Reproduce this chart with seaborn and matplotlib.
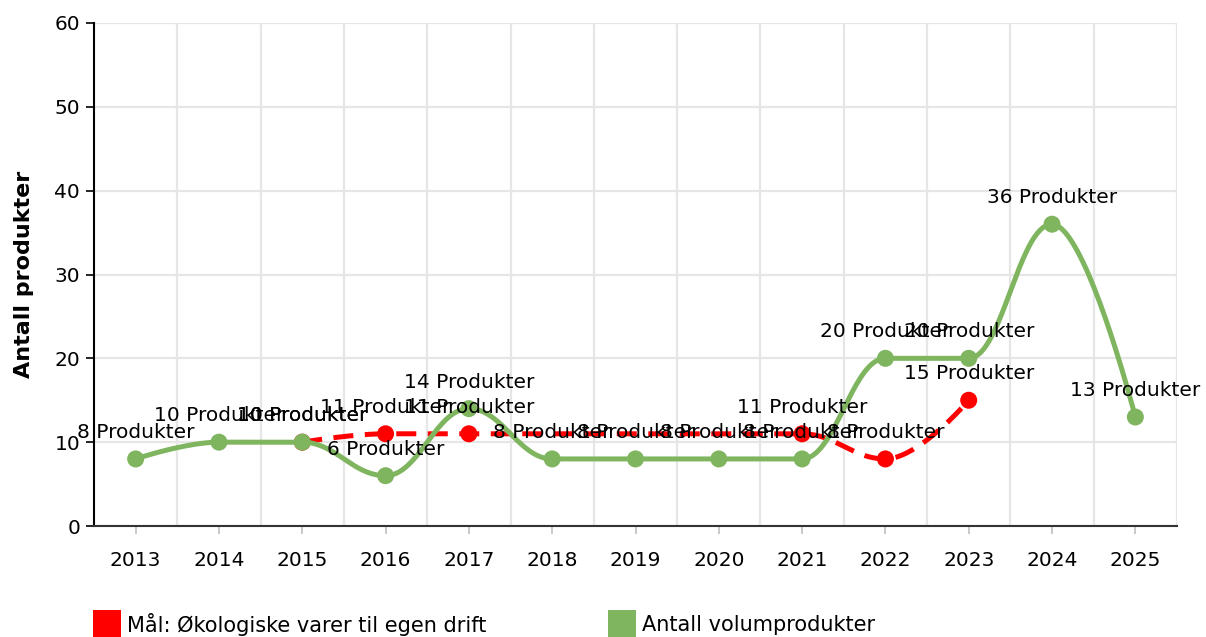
import numpy as np
import pandas as pd
import matplotlib
matplotlib.use("Agg")
import matplotlib.pyplot as plt
from matplotlib.patches import Rectangle
import seaborn as sns

years = [2013, 2014, 2015, 2016, 2017, 2018, 2019, 2020, 2021, 2022, 2023, 2024, 2025]
volum = [8, 10, 10, 6, 14, 8, 8, 8, 8, 20, 20, 36, 13]
maal = [np.nan, np.nan, 10, 11, 11, np.nan, np.nan, np.nan, 11, 8, 15, np.nan, np.nan]

navn_maal = "Mål: Økologiske varer til egen drift"
navn_volum = "Antall volumprodukter"
farge_maal = "#ff0000"
farge_volum = "#7fb55f"


def spline(xs, ys, smoothing=1.5):
    # kubisk bezier-spline, kontrollpunktene klemmes så kurven ikke skyter over naboene
    n = len(xs)
    left = [None] * n
    right = [None] * n
    d = smoothing + 1
    for i in range(1, n - 1):
        px, py = xs[i], ys[i]
        lx, ly = xs[i - 1], ys[i - 1]
        nx, ny = xs[i + 1], ys[i + 1]
        lcx, lcy = (smoothing * px + lx) / d, (smoothing * py + ly) / d
        rcx, rcy = (smoothing * px + nx) / d, (smoothing * py + ny) / d
        if rcx != lcx:
            corr = (rcy - lcy) * (rcx - px) / (rcx - lcx) + py - rcy
            lcy += corr
            rcy += corr
        if lcy > ly and lcy > py:
            lcy = max(ly, py); rcy = 2 * py - lcy
        elif lcy < ly and lcy < py:
            lcy = min(ly, py); rcy = 2 * py - lcy
        if rcy > ny and rcy > py:
            rcy = max(ny, py); lcy = 2 * py - rcy
        elif rcy < ny and rcy < py:
            rcy = min(ny, py); lcy = 2 * py - rcy
        left[i] = (lcx, lcy)
        right[i] = (rcx, rcy)
    t = np.linspace(0, 1, 40)
    cx, cy = [], []
    for i in range(1, n):
        p0 = (xs[i - 1], ys[i - 1])
        p3 = (xs[i], ys[i])
        p1 = right[i - 1] or p0
        p2 = left[i] or p3
        bx = (1 - t) ** 3 * p0[0] + 3 * (1 - t) ** 2 * t * p1[0] + 3 * (1 - t) * t ** 2 * p2[0] + t ** 3 * p3[0]
        by = (1 - t) ** 3 * p0[1] + 3 * (1 - t) ** 2 * t * p1[1] + 3 * (1 - t) * t ** 2 * p2[1] + t ** 3 * p3[1]
        cx.extend(bx)
        cy.extend(by)
    return np.array(cx), np.array(cy)


df = pd.DataFrame({"aar": years, "volum": volum, "maal": maal})

sns.set_theme(style="white")
plt.rcParams["font.family"] = ["DejaVu Sans"]

fig = plt.figure(figsize=(12.06, 6.37), dpi=100)
ax = fig.add_axes([94 / 1206, 111 / 637, 1083 / 1206, 503 / 637])

serier = [("maal", farge_maal, (0, (4, 2.3)), 2), ("volum", farge_volum, "-", 4)]
for kol, farge, stil, z in serier:
    d = df.dropna(subset=[kol])
    cx, cy = spline(list(d["aar"].astype(float)), list(d[kol].astype(float)))
    sns.lineplot(x=cx, y=cy, sort=False, estimator=None, ax=ax, color=farge,
                 linewidth=3.6, linestyle=stil, zorder=z)
    sns.scatterplot(x=d["aar"], y=d[kol], ax=ax, color=farge, s=150,
                    edgecolor="none", zorder=z + 0.5)
    for x, y in zip(d["aar"], d[kol]):
        ax.annotate(f"{int(y)} Produkter", (x, y), xytext=(0, 19), textcoords="offset points",
                    ha="center", va="center", fontsize=14.5, color="black",
                    zorder=10, annotation_clip=False)

ax.set_xlim(2012.5, 2025.5)
ax.set_ylim(0, 60)
ax.set_xticks(years)
ax.set_xticks(np.arange(2013.5, 2025.6, 1), minor=True)
ax.set_yticks(range(0, 61, 10))
ax.grid(which="minor", axis="x", color="#e6e6e6", linewidth=1.6)
ax.grid(which="major", axis="y", color="#e6e6e6", linewidth=1.6)
ax.grid(which="major", axis="x", visible=False)
ax.set_axisbelow(True)

ax.tick_params(axis="y", which="major", left=True, length=6, width=1.2, color="black",
               labelsize=14.5, pad=4, labelcolor="black")
ax.tick_params(axis="x", which="major", bottom=True, length=6, width=1.2, color="#c0c0c0",
               labelsize=14.5, pad=12, labelcolor="black")
ax.tick_params(axis="x", which="minor", bottom=False)

for s in ["top", "right"]:
    ax.spines[s].set_visible(False)
ax.spines["left"].set_color("black")
ax.spines["left"].set_linewidth(1.5)
ax.spines["bottom"].set_color("#333333")
ax.spines["bottom"].set_linewidth(1.5)

ax.set_xlabel("")
ax.set_ylabel("Antall produkter", fontsize=16, fontweight="bold", labelpad=15, color="black")

# forklaring nederst
W, H = 1206, 637
for x0, farge, tekst in [(93, farge_maal, navn_maal), (608, farge_volum, navn_volum)]:
    fig.add_artist(Rectangle((x0 / W, 0), 28 / W, 27 / H, transform=fig.transFigure,
                             facecolor=farge, edgecolor="none"))
    fig.text((x0 + 34) / W, 12 / H, tekst, fontsize=15, color="black", va="center", ha="left")

fig.savefig("out.png", dpi=100)
